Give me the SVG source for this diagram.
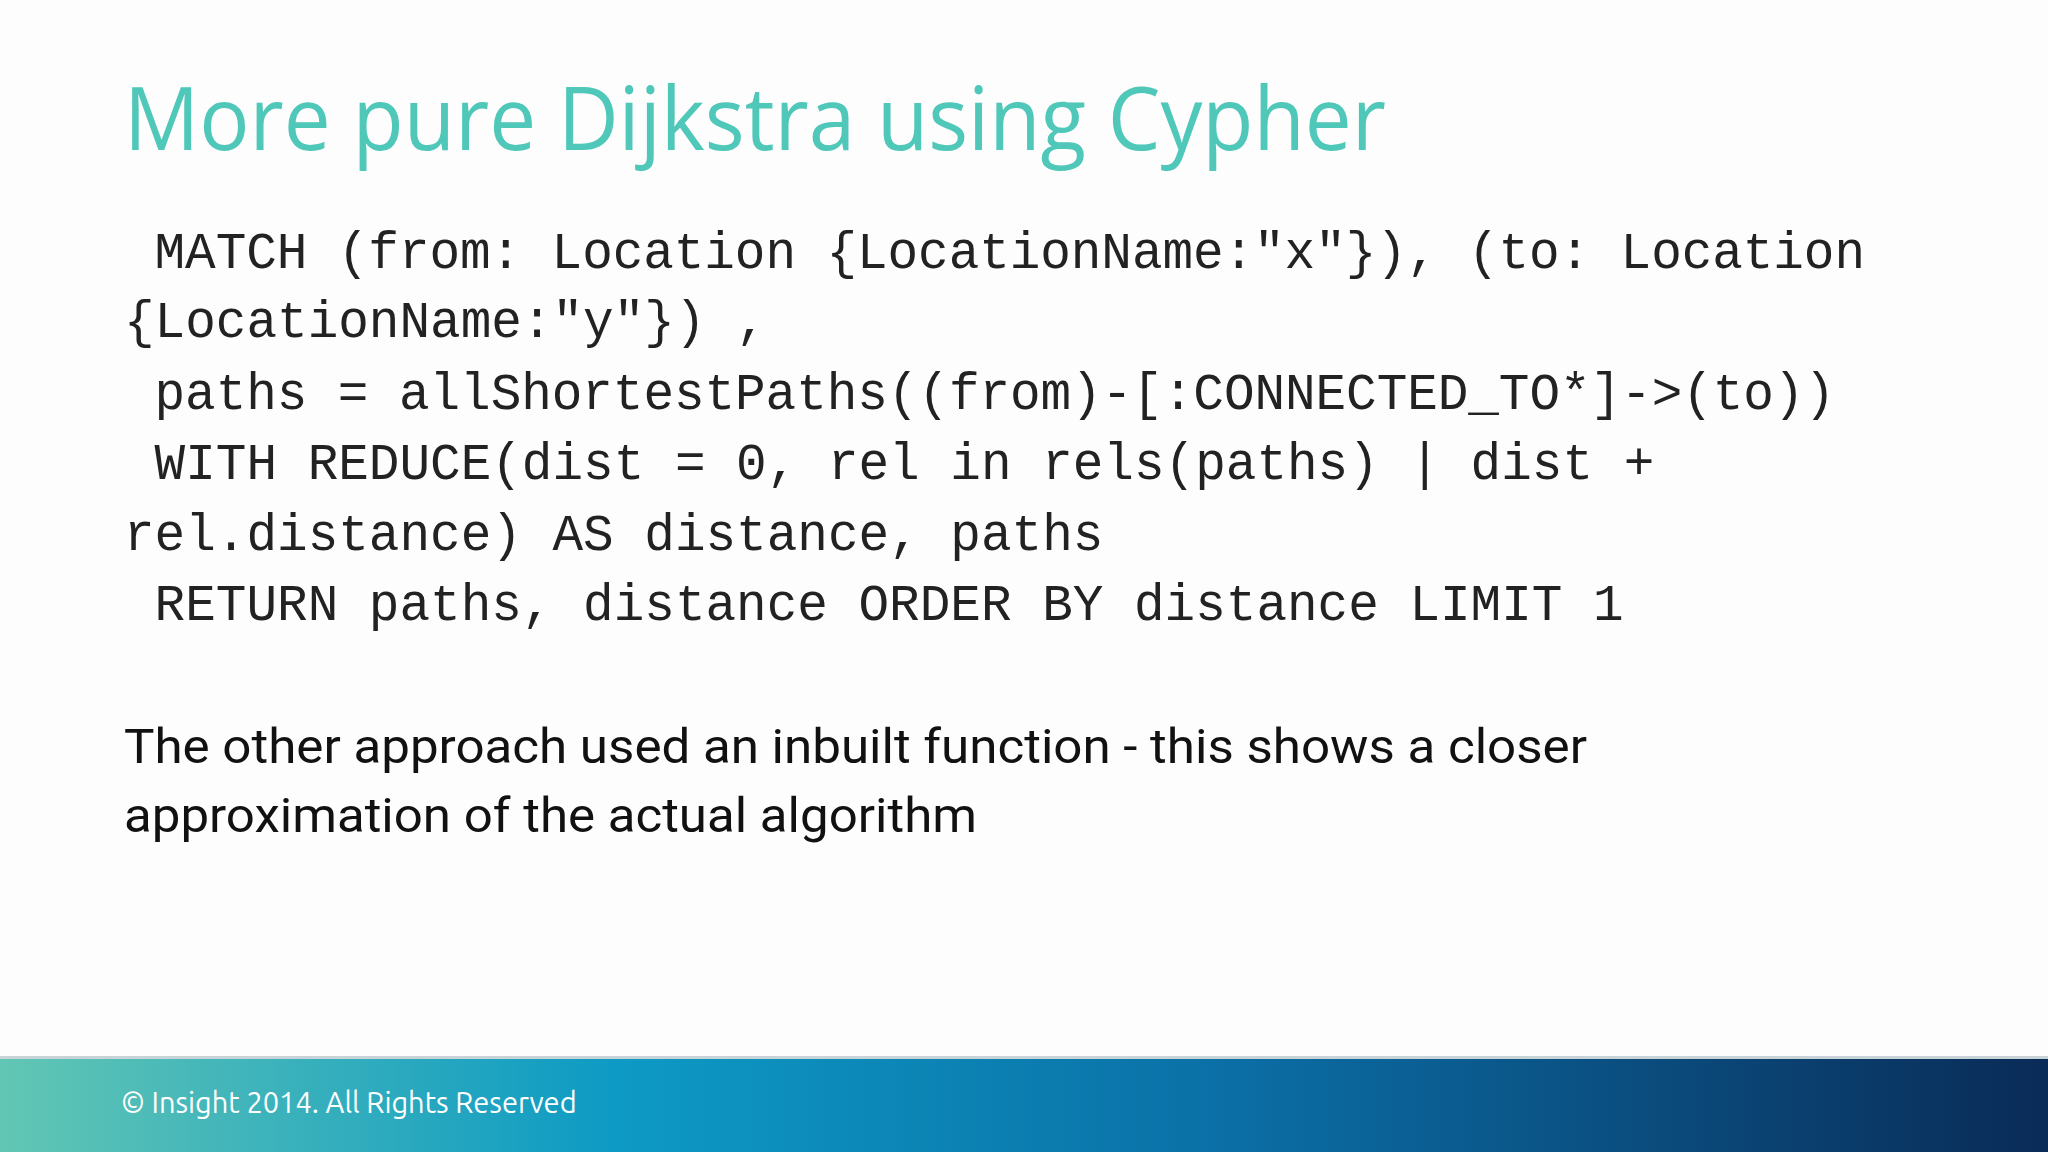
<svg xmlns="http://www.w3.org/2000/svg" width="2048" height="1152" viewBox="0 0 2048 1152">
<defs>
<linearGradient id="fg" x1="0" y1="0" x2="1" y2="0">
<stop offset="0" stop-color="#62c6b4"/>
<stop offset="0.3" stop-color="#0d9ac4"/>
<stop offset="0.6" stop-color="#0b6fa6"/>
<stop offset="1" stop-color="#0a2b57"/>
</linearGradient>
<style>
.code{font-family:"Liberation Mono",monospace;font-size:51px;fill:#222;white-space:pre}
.body{font-family:Roboto,"Liberation Sans",sans-serif;font-size:49px;fill:#111}
</style>
</defs>
<rect width="2048" height="1152" fill="#fdfdfd"/>
<g id="title"><text x="124" y="150" font-family="'Open Sans',Lato,sans-serif" font-size="88" font-weight="400" fill="#4fc7b9" textLength="1262" lengthAdjust="spacingAndGlyphs">More pure Dijkstra using Cypher</text></g>
<g id="code">
<text class="code" x="124" y="268" xml:space="preserve" textLength="1741"> MATCH (from: Location {LocationName:"x"}), (to: Location</text>
<text class="code" x="124" y="337" xml:space="preserve">{LocationName:"y"}) ,</text>
<text class="code" x="124" y="409" xml:space="preserve" textLength="1711"> paths = allShortestPaths((from)-[:CONNECTED_TO*]->(to))</text>
<text class="code" x="124" y="479" xml:space="preserve"> WITH REDUCE(dist = 0, rel in rels(paths) | dist +</text>
<text class="code" x="124" y="550" xml:space="preserve">rel.distance) AS distance, paths</text>
<text class="code" x="124" y="620" xml:space="preserve"> RETURN paths, distance ORDER BY distance LIMIT 1</text>
</g>
<g id="body">
<text class="body" x="124" y="763" textLength="1463" lengthAdjust="spacingAndGlyphs">The other approach used an inbuilt function - this shows a closer</text>
<text class="body" x="124" y="832" textLength="853" lengthAdjust="spacingAndGlyphs">approximation of the actual algorithm</text>
</g>
<g id="footer">
<rect x="0" y="1058" width="2048" height="94" fill="url(#fg)"/>
<rect x="0" y="1056" width="2048" height="3" fill="#c8d3d8"/>
<text x="121" y="1113" font-family="Ubuntu,'Open Sans',sans-serif" font-size="29" fill="#fff">© Insight 2014. All Rights Reserved</text>
</g>
</svg>
